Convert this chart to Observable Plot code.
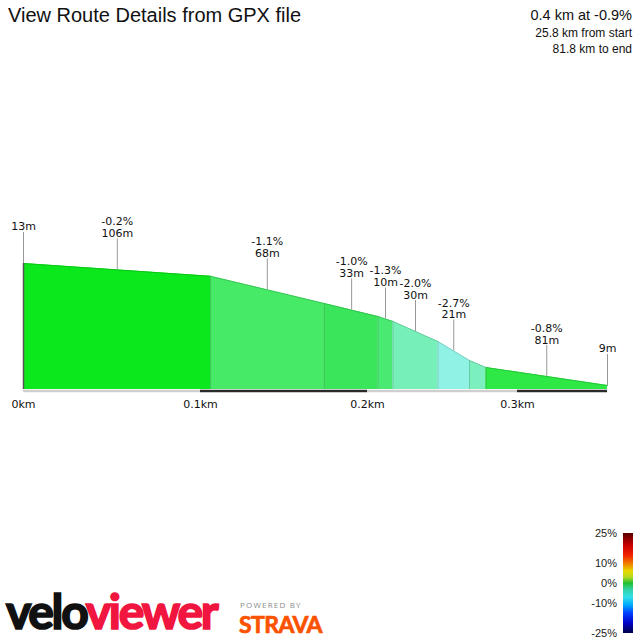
<!DOCTYPE html>
<html><head><meta charset="utf-8">
<script src="https://cdn.jsdelivr.net/npm/d3@7"></script>
<script src="https://cdn.jsdelivr.net/npm/@observablehq/plot@0.6"></script>
<style>
body{margin:0;background:#fff;}
#wrap{position:relative;width:640px;height:640px;overflow:hidden;font-family:"Liberation Sans",Arial,sans-serif;background:#fff;}
#chart{position:absolute;left:0;top:0;}
#title{position:absolute;left:8px;top:4px;font-size:20px;color:#111;white-space:nowrap;}
#stats{position:absolute;right:8px;top:6px;text-align:right;color:#111;line-height:16px;}
#stats .l1{font-size:14.5px;line-height:19px;}
#stats .l2{font-size:12px;}
#bar{position:absolute;left:623px;top:533px;width:10px;height:100px;}
.blab{position:absolute;right:23px;font-size:11px;color:#222;transform:translateY(-50%);}
#logo{position:absolute;left:6px;top:590px;line-height:42px;font-family:Lato,"Open Sans",sans-serif;font-weight:bold;font-size:48px;letter-spacing:-2.3px;white-space:nowrap;-webkit-text-stroke:1.7px currentColor;}
#powered{position:absolute;left:240px;top:600px;line-height:9px;font-family:"Open Sans",sans-serif;font-size:8px;letter-spacing:1.2px;color:#8a8a8a;}
#strava{position:absolute;left:239px;top:613px;line-height:22px;font-family:Lato,sans-serif;font-weight:bold;font-size:23px;letter-spacing:-0.6px;color:#fc5200;-webkit-text-stroke:0.7px #fc5200;}
</style></head>
<body>
<div id="wrap">
  <div id="chart"></div>
  <div id="title">View Route Details from GPX file</div>
  <div id="stats"></div>
  <div id="bar"></div>
  <div id="logo"><span style="color:#111">velo</span><span style="color:#f0163f">viewer</span></div>
  <div id="powered">POWERED BY</div>
  <div id="strava">STRAVA</div>
</div>
<script>
// ---- data ----
const profileDist = [0, 106, 174, 207, 217, 247, 268, 279, 360];          // metres along route
const profileElev = [13.0, 12.58, 11.69, 11.26, 11.10, 10.44, 9.82, 9.59, 9.0]; // metres
const segGrade   = [-0.2, -1.1, -1.0, -1.3, -2.0, -2.7, -1.8, -0.8];      // %
const segLength  = [106, 68, 33, 10, 30, 21, 11, 81];                     // m
const segLabeled = [true, true, true, true, true, true, false, true];
const xTicks      = [0, 100, 200, 300];
const xTickLabels = ["0km", "0.1km", "0.2km", "0.3km"];
const routeEnd    = 360;
const endLabels   = ["13m", "9m"];
const statLines   = ["0.4 km at -0.9%", "25.8 km from start", "81.8 km to end"];
const legendTicks = [25, 10, 0, -10, -25];
const legendLabels = ["25%", "10%", "0%", "-10%", "-25%"];
// ---- styles ----
const segColors = ["#0be81b", "#46ea67", "#3be55b", "#4aea72", "#77efb9", "#8ff2e5", "#7befbd", "#2ee846"];
const gradStops = [[25,"#5a0000"],[19,"#c80000"],[14,"#f02000"],[10,"#f07800"],[6,"#e8d800"],[3,"#b8d820"],[0,"#20c030"],[-3,"#30d0a0"],[-7,"#30e0e8"],[-11,"#00a8ff"],[-15,"#0040ff"],[-20,"#0000c8"],[-25,"#000048"]];
// the source chart's distance axis is not uniform: each 0.1 km interval gets its own width
const xWarp = d3.scaleLinear().domain([0, 100, 200, 300, 360]).range([0, 177, 344, 494, 584]);

const base = 8.87;
const segs = segLength.map((len, i) => ({
  i, len, grade: segGrade[i], labeled: segLabeled[i], color: segColors[i],
  x1: profileDist[i], x2: profileDist[i + 1], e1: profileElev[i], e2: profileElev[i + 1]
}));
segs.forEach(s => { s.mid = (s.x1 + s.x2) / 2; s.midE = (s.e1 + s.e2) / 2; });
const darker = c => d3.color(c).darker(0.45).formatHex();
const areaPts = segs.flatMap(s => [
  {d: s.x1, e: s.e1, seg: s.i, color: s.color},
  {d: s.x2, e: s.e2, seg: s.i, color: s.color}
]);
const strip = xTicks.map((t, i) => ({x1: t, x2: i < xTicks.length - 1 ? xTicks[i + 1] : routeEnd, c: i % 2 ? "#2a2a2a" : "#cfcfcf"}));
const ends = [
  {d: profileDist[0], e: profileElev[0], t: endLabels[0]},
  {d: profileDist[profileDist.length - 1], e: profileElev[profileElev.length - 1], t: endLabels[1]}
];
const labeled = segs.filter(s => s.labeled);
const lab = {fontSize: 11, fontFamily: "DejaVu Sans, Verdana, sans-serif", fill: "#111", lineAnchor: "bottom", lineHeight: 1.05};

const chart = Plot.plot({
  width: 640, height: 430,
  x: {transform: xWarp, domain: [0, 584], range: [23, 607], axis: null},
  y: {domain: [base, 13], range: [389, 263], axis: null},
  color: {type: "identity"},
  style: {background: "transparent", overflow: "visible"},
  marks: [
    Plot.areaY(areaPts, {x: "d", y1: base, y2: "e", z: "seg", fill: "color"}),
    Plot.ruleX(segs.slice(1), {x: "x1", y1: base, y2: "e1", stroke: d => darker(d.color), strokeWidth: 1}),
    Plot.line(areaPts, {x: "d", y: "e", z: "seg", stroke: d => darker(d.color), strokeWidth: 1}),
    Plot.ruleY(strip, {x1: "x1", x2: "x2", y: base, dy: 1.5, stroke: "c", strokeWidth: 2.5}),
    Plot.ruleX(labeled, {x: "mid", y1: "midE", y2: "midE", insetTop: -31, stroke: "#999", strokeWidth: 1}),
    Plot.text(labeled, {...lab, x: "mid", y: "midE", dy: -33, text: s => `${s.grade.toFixed(1)}%\n${s.len}m`}),
    Plot.ruleX(ends, {x: "d", y1: "e", y2: "e", insetTop: -31, stroke: "#999", strokeWidth: 1}),
    Plot.ruleX([ends[0]], {x: "d", y1: base, y2: "e", stroke: "#555", strokeWidth: 1.5}),
    Plot.text(ends, {...lab, x: "d", y: "e", dy: -34, text: "t"}),
    Plot.text(xTicks, {...lab, x: d => d, y: base, dy: 18, text: (d, i) => xTickLabels[i]})
  ]
});
document.getElementById("chart").appendChild(chart);

// header stats
document.getElementById("stats").innerHTML = statLines.map((t, i) => `<div class="${i ? "l2" : "l1"}">${t}</div>`).join("");

// colour bar legend
const barTop = 533, barH = 100;
const pos = v => (25 - v) / 50;
document.getElementById("bar").style.background =
  "linear-gradient(to bottom," + gradStops.map(([v, c]) => `${c} ${(pos(v) * 100).toFixed(1)}%`).join(",") + ")";
const wrap = document.getElementById("wrap");
legendTicks.forEach((v, i) => {
  const el = document.createElement("div");
  el.className = "blab";
  el.style.top = (barTop + pos(v) * barH) + "px";
  el.textContent = legendLabels[i];
  wrap.appendChild(el);
});
</script>
</body></html>
